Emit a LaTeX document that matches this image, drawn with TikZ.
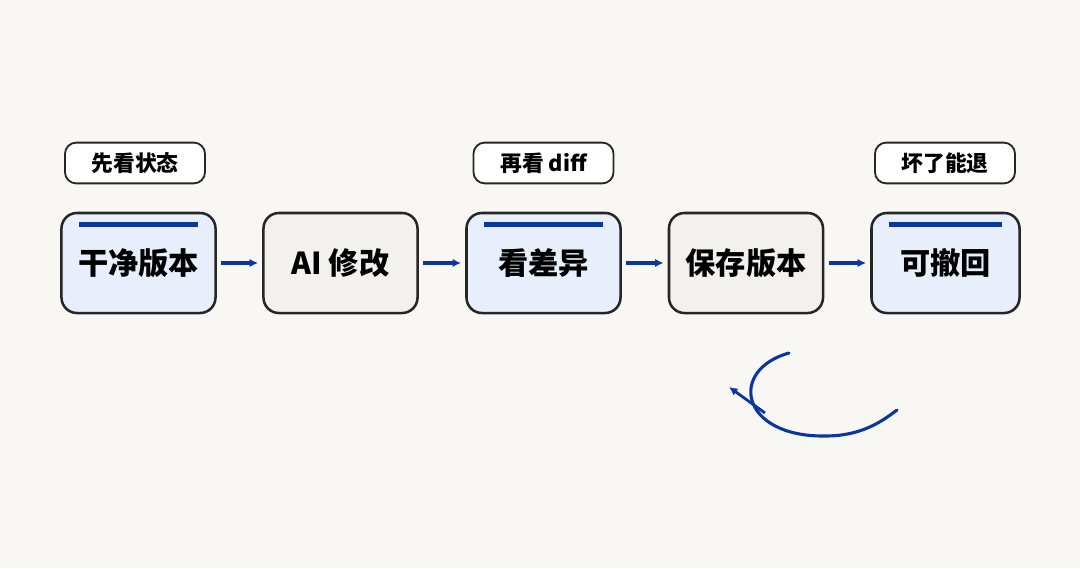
\documentclass[tikz,border=0pt]{standalone}
\usepackage{fontspec}
\setmainfont{Noto Sans CJK SC}
\usetikzlibrary{arrows.meta,calc}
\definecolor{bgcol}{HTML}{F8F7F3}
\definecolor{ablue}{HTML}{0A36A0}
\definecolor{bluefill}{HTML}{E8EEFB}
\definecolor{grayfill}{HTML}{F2F1EE}
\begin{document}
\begin{tikzpicture}[x=0.025cm,y=-0.025cm,>={Latex[length=6pt,width=6pt]},
  stepbox/.style={draw=black!85,line width=1.8pt,rounded corners=11pt,minimum width=3.85cm,minimum height=2.5cm,font=\bfseries\fontsize{21.5}{25}\selectfont},
  keybox/.style={stepbox,fill=bluefill},
  plainbox/.style={stepbox,fill=grayfill},
  tagbox/.style={draw=black!85,fill=white,line width=1.3pt,rounded corners=8pt,minimum width=3.5cm,minimum height=1.02cm,font=\bfseries\fontsize{15.5}{18}\selectfont},
  bar/.style={draw=ablue,line width=3.5pt},
  flow/.style={->,draw=ablue,line width=2.3pt,shorten <=3pt,shorten >=3pt}]

\fill[bgcol] (0,0) rectangle (1080,568);
\useasboundingbox (0,0) rectangle (1080,568);

\node[keybox] (a) at (138.5,263) {干净版本};
\node[plainbox] (b) at (340.5,263) {AI 修改};
\node[keybox] (c) at (543.5,263) {看差异};
\node[plainbox] (d) at (746,263) {保存版本};
\node[keybox,minimum width=3.7cm] (e) at (945.5,263) {可撤回};

\node[tagbox] (ta) at (135,163) {先看状态};
\node[tagbox] (tc) at (543.5,163) {再看 diff};
\node[tagbox] (te) at (945,163) {坏了能退};

\path [bar]
    ($(a.north west)+(19,13)$) -- ($(a.north east)+(-19,13)$)
    ($(c.north west)+(19,13)$) -- ($(c.north east)+(-19,13)$)
    ($(e.north west)+(19,13)$) -- ($(e.north east)+(-19,13)$)
;

\path [flow] (a) -- (b);
\path [flow] (b) -- (c);
\path [flow] (c) -- (d);
\path [flow] (d) -- (e);

\coordinate (r1) at (789,353);
\coordinate (r2) at (825,436);
\coordinate (r3) at (897,410);
\coordinate (p1) at (765,413);
\coordinate (p2) at (729,387);

\draw[ablue,line width=2.2pt,line cap=round]
    (r1) .. controls (728,370) and (740,437) .. (r2)
    .. controls (860,436) and (880,423) .. (r3);
\draw[ablue,line width=2pt,->] (p1) -- (p2);

\end{tikzpicture}
\end{document}
